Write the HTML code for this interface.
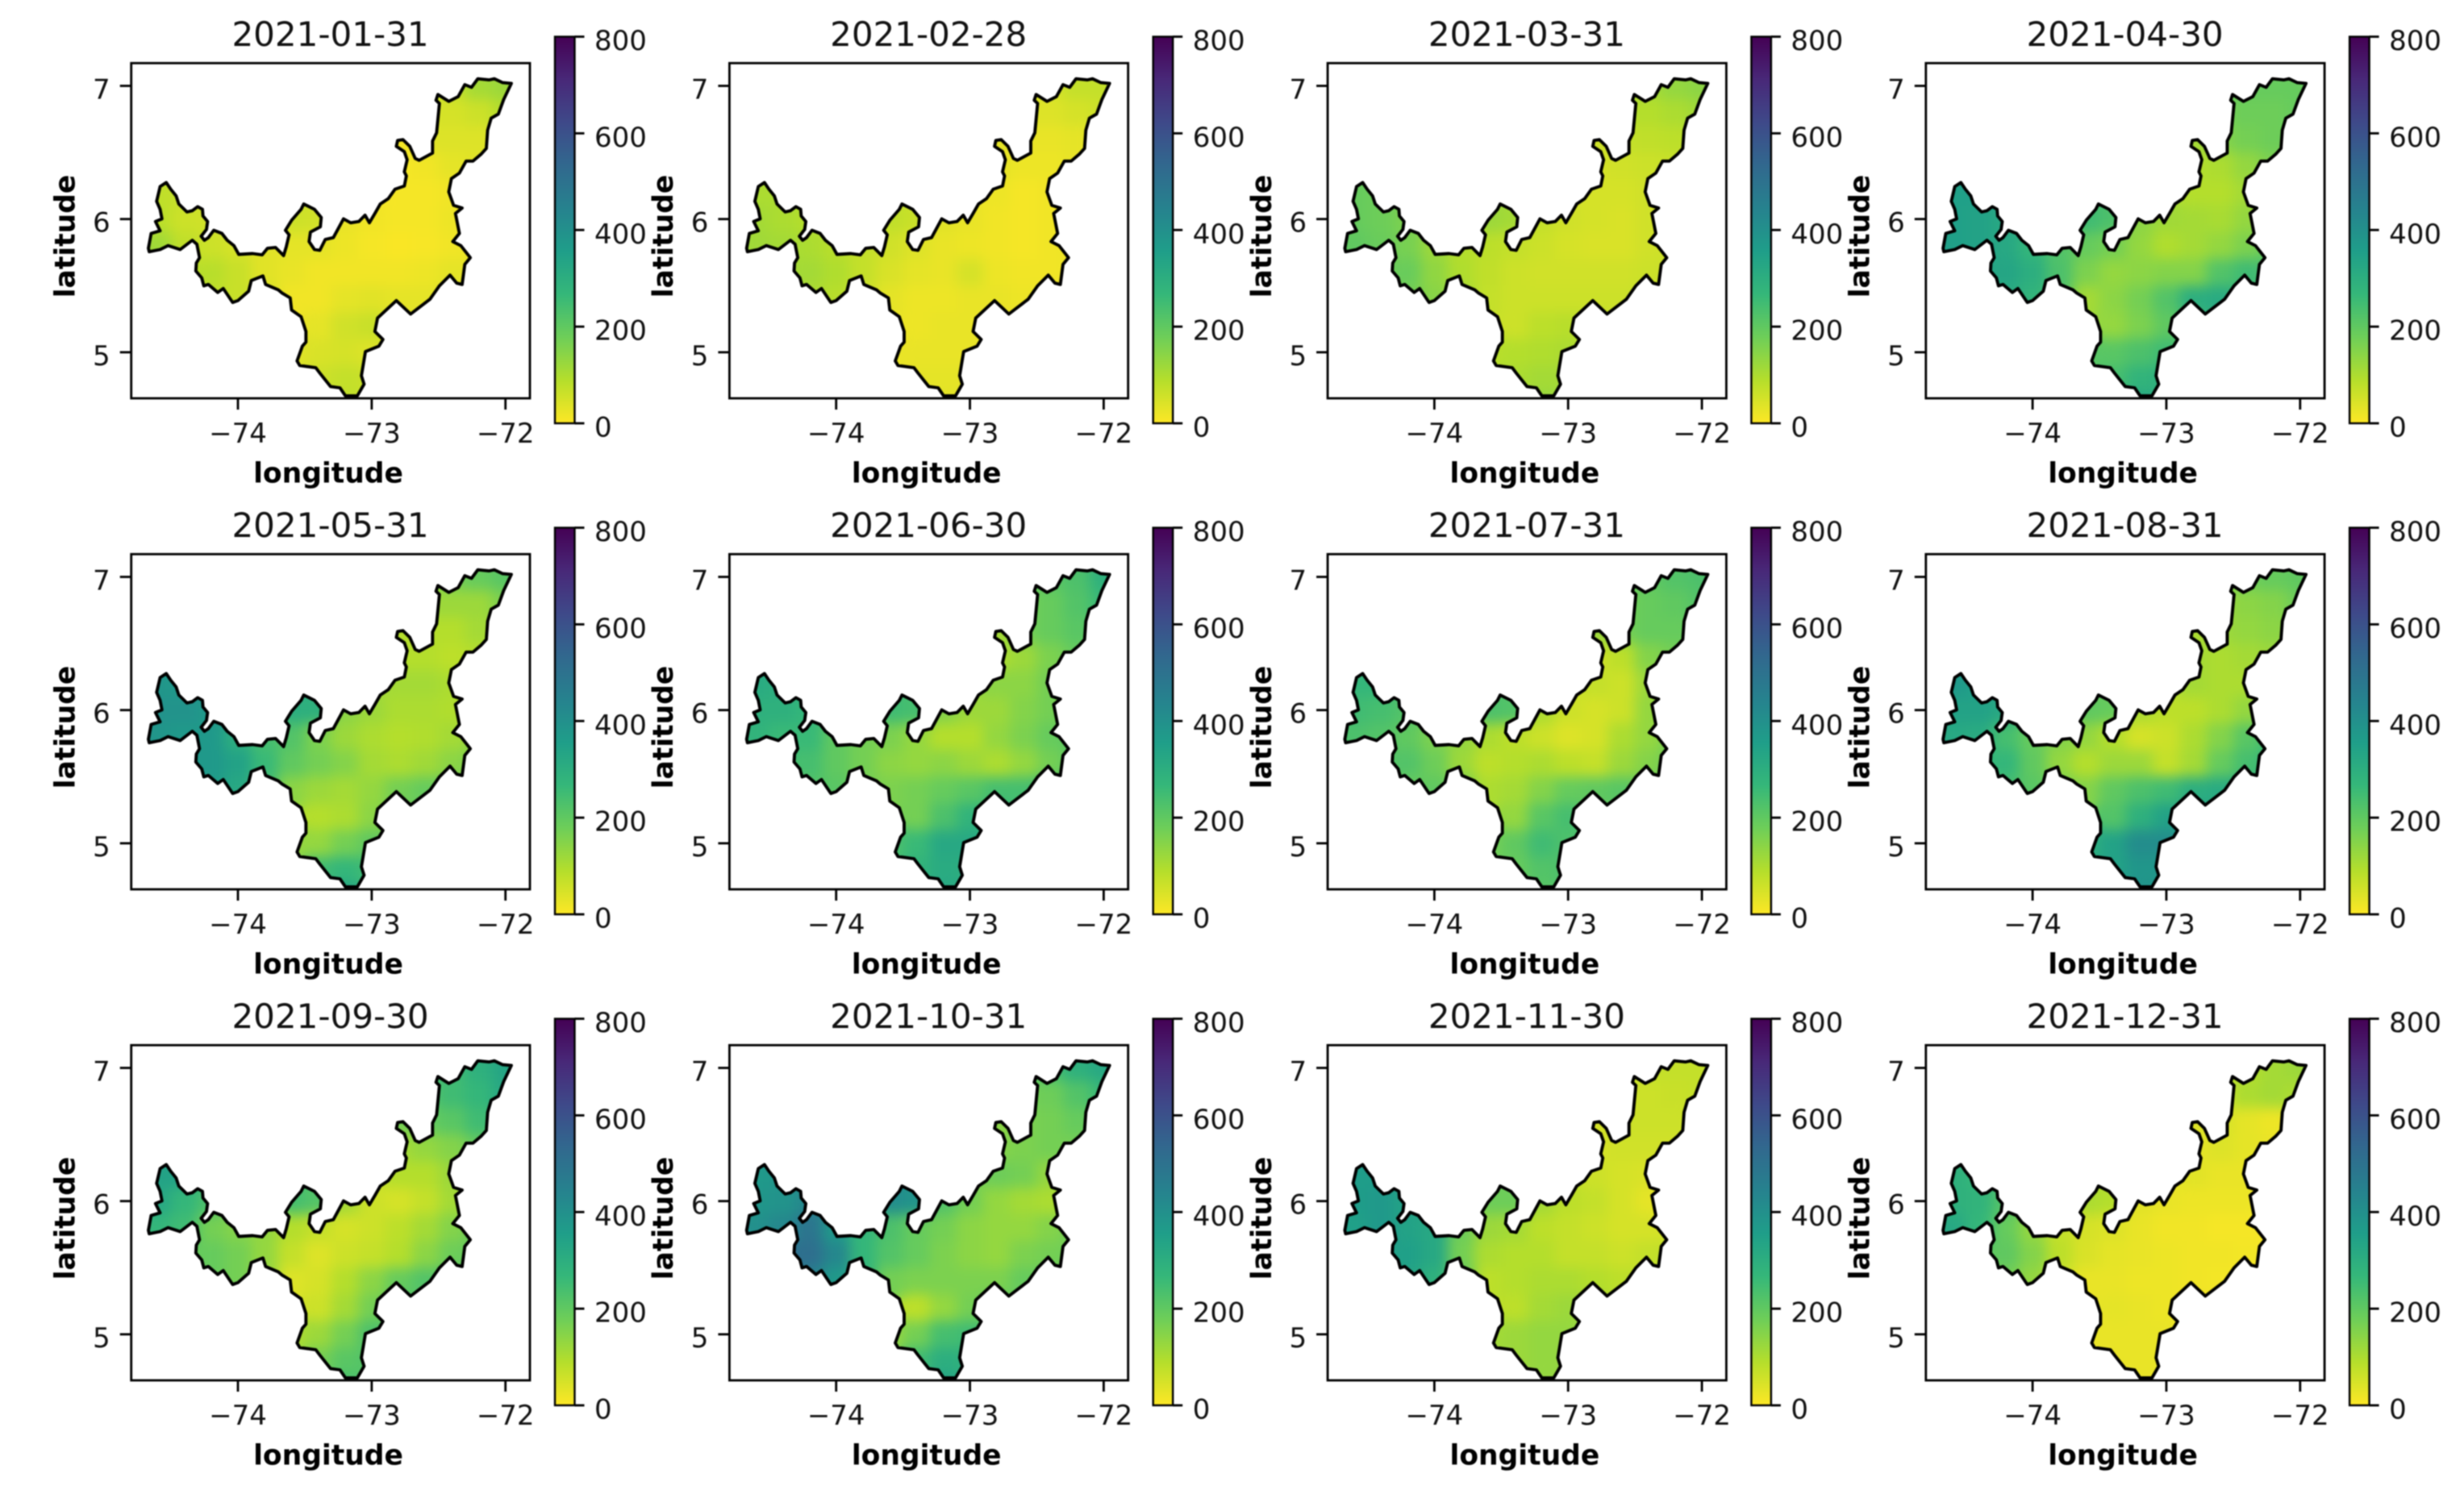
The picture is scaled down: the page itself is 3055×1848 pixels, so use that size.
<!DOCTYPE html>
<html lang="en">
<head>
<meta charset="utf-8">
<title>Monthly map panels 2021</title>
<style>
html,body{margin:0;padding:0;background:#fff;}
#figure{display:block;width:3055px;height:1848px;filter:blur(0.8px);font-family:"DejaVu Sans","Liberation Sans",sans-serif;}
</style>
</head>
<body>
<svg id="figure" xmlns="http://www.w3.org/2000/svg" width="3055" height="1848" viewBox="0 0 3055 1848"></svg>
<script>
const xTicks = [-74, -73, -72];
const yTicks = [5, 6, 7];
const cbarTicks = [0, 200, 400, 600, 800];
const titles = ['2021-01-31','2021-02-28','2021-03-31','2021-04-30','2021-05-31','2021-06-30','2021-07-31','2021-08-31','2021-09-30','2021-10-31','2021-11-30','2021-12-31'];

const gridLons = [-74.6,-74.4,-74.2,-74.0,-73.8,-73.6,-73.4,-73.2,-73.0,-72.8,-72.6,-72.4,-72.2,-72.0];
const gridLats = [7.0,6.8,6.6,6.4,6.2,6.0,5.8,5.6,5.4,5.2,5.0,4.8,4.6];
const rowColumns = [[11,12,13],[10,11,12,13],[9,10,11,12],[9,10,11,12],[0,1,9,10,11],[0,1,2,5,6,7,8,9,10,11],[0,1,2,3,4,5,6,7,8,9,10,11,12],[2,3,4,5,6,7,8,9,10,11,12],[2,3,4,5,6,7,8,9,10,11],[6,7,8,9],[5,6,7,8],[6,7,8],[7]];

const jan = [[70,110,120],[50,50,60,90],[10,40,40,40],[10,15,30,35],[75,70,10,10,15],[80,60,55,60,55,25,15,10,10,20],[115,75,60,50,35,30,30,20,10,5,8,15,25],[85,65,35,25,15,15,15,15,20,30,30],[75,65,50,15,15,30,35,30,30,45],[30,55,65,40],[35,45,50,40],[60,70,65],[75]];
const feb = [[50,70,70],[40,40,50,60],[30,25,25,30],[30,20,20,25],[100,100,20,10,15],[110,100,90,75,65,35,25,15,10,15],[115,110,100,85,70,55,40,25,20,15,10,15,20],[110,95,70,45,30,25,50,20,15,15,20],[100,85,60,30,20,20,25,25,20,25],[20,25,25,20],[25,25,25,25],[30,30,30],[35]];
const mar = [[110,130,140],[90,90,100,115],[60,70,75,80],[50,55,60,65],[190,180,50,50,55],[190,180,160,120,110,70,55,50,45,55],[200,185,165,120,90,80,70,60,50,45,45,55,60],[185,135,95,75,60,55,55,55,55,60,65],[170,145,110,70,60,60,60,60,60,70],[60,80,85,75],[85,90,95,100],[100,110,110],[130]];
const apr = [[190,190,190],[170,180,180,190],[110,150,170,180],[90,100,130,160],[350,350,90,90,110],[350,340,320,250,230,140,115,110,105,130],[350,340,320,270,220,190,170,130,95,110,130,160,200],[330,300,230,160,130,140,150,150,220,250,230],[310,280,230,110,140,170,220,300,310,280],[130,160,200,250],[210,210,230,250],[240,280,290],[330]];
const may = [[170,190,210],[120,120,120,160],[90,90,90,110],[90,90,80,90],[380,370,110,110,100],[390,390,370,300,290,140,120,100,100,95],[380,370,370,300,240,220,160,120,100,90,95,110,130],[370,340,260,200,170,150,110,100,115,140,170],[360,320,250,140,120,110,130,170,190,200],[90,100,140,190],[130,130,170,200],[250,270,250],[340]];
const jun = [[210,230,290],[170,190,220,260],[110,170,190,210],[100,120,160,190],[310,300,140,140,170],[290,290,270,250,240,150,120,120,150,170],[280,260,260,200,170,160,130,90,90,130,160,190,210],[240,200,170,140,130,140,120,100,130,170,210],[220,210,170,160,170,190,210,240,240,260],[170,230,280,280],[230,260,320,320],[280,310,300],[320]];
const jul = [[200,220,230],[170,190,200,220],[120,170,190,190],[60,80,150,170],[270,270,70,60,120],[250,240,220,230,220,100,60,50,60,130],[230,220,200,160,130,100,80,60,40,50,100,130,170],[220,180,120,80,90,100,80,70,120,150,190],[190,200,170,100,110,150,190,200,210,200],[130,210,240,200],[170,200,250,230],[190,220,230],[210]];
const aug = [[180,190,200],[120,140,150,180],[100,120,130,140],[110,100,110,120],[370,350,110,100,100],[340,340,320,200,190,100,80,80,100,130],[320,310,240,190,150,130,90,50,60,100,150,210,250],[270,200,130,90,120,120,70,110,190,240,270],[240,210,170,150,200,230,250,300,310,320],[220,290,340,350],[290,340,410,410],[340,380,380],[390]];
const sep = [[250,290,330],[220,250,270,320],[170,190,210,250],[110,130,150,190],[340,340,90,90,120],[320,270,230,240,220,110,60,50,70,110],[270,250,170,150,130,90,70,50,60,80,110,150,190],[190,170,130,70,40,60,70,90,140,180,200],[190,170,130,40,50,90,140,190,220,230],[60,110,170,230],[100,120,170,230],[170,210,220],[240]];
const oct = [[240,290,320],[170,180,220,260],[140,160,170,190],[150,160,170,170],[370,380,180,170,130],[380,390,430,410,390,220,170,130,110,100],[400,430,490,370,270,230,190,170,140,130,130,150,180],[510,430,270,220,190,160,140,130,160,170,180],[440,370,290,170,160,160,160,160,190,200],[80,130,170,210],[130,170,240,250],[250,300,290],[340]];
const nov = [[70,70,70],[60,60,65,70],[50,60,60,60],[50,55,55,55],[360,360,60,50,45],[360,370,340,180,180,110,80,70,50,30],[350,370,340,320,180,120,110,80,70,60,50,50,50],[350,320,170,100,90,90,70,70,60,70,80],[330,290,200,80,90,100,100,90,80,80],[80,110,120,110],[110,120,130,130],[120,130,130],[130]];
const dec = [[90,110,120],[60,100,110,100],[40,50,30,20],[30,40,30,25],[290,270,35,25,25],[290,280,220,100,90,35,25,20,20,20],[320,270,190,130,70,50,40,25,15,15,10,10,10],[200,150,80,45,30,25,20,15,15,12,10],[170,130,60,25,25,20,20,15,12,10],[30,25,20,20],[25,25,25,25],[25,25,25],[25]];
const months = [jan,feb,mar,apr,may,jun,jul,aug,sep,oct,nov,dec];

const regionBoundary = [
[-74.536,6.274],[-74.502,6.224],[-74.462,6.174],[-74.442,6.113],[-74.381,6.053],[-74.341,6.063],[-74.301,6.093],[-74.265,6.073],[-74.261,6.023],[-74.227,5.982],[-74.235,5.922],[-74.275,5.871],[-74.251,5.841],[-74.221,5.861],[-74.181,5.916],[-74.120,5.892],[-74.080,5.841],[-74.030,5.801],[-73.994,5.735],[-73.890,5.741],[-73.819,5.731],[-73.779,5.781],[-73.719,5.787],[-73.659,5.726],[-73.639,5.791],[-73.618,5.882],[-73.645,5.916],[-73.598,5.992],[-73.528,6.073],[-73.508,6.113],[-73.428,6.073],[-73.377,6.012],[-73.384,5.942],[-73.458,5.902],[-73.468,5.831],[-73.428,5.771],[-73.388,5.765],[-73.347,5.847],[-73.287,5.861],[-73.211,6.002],[-73.157,5.972],[-73.096,5.982],[-73.050,6.029],[-73.017,5.972],[-72.976,6.042],[-72.936,6.113],[-72.876,6.153],[-72.826,6.224],[-72.756,6.248],[-72.741,6.324],[-72.756,6.355],[-72.735,6.445],[-72.756,6.506],[-72.816,6.546],[-72.806,6.590],[-72.766,6.596],[-72.715,6.546],[-72.675,6.455],[-72.645,6.441],[-72.545,6.496],[-72.545,6.586],[-72.515,6.647],[-72.505,6.747],[-72.494,6.868],[-72.519,6.892],[-72.505,6.935],[-72.424,6.884],[-72.354,6.919],[-72.304,7.009],[-72.254,6.989],[-72.207,7.053],[-72.123,7.045],[-72.083,7.053],[-72.023,7.025],[-71.956,7.019],[-72.013,6.898],[-72.053,6.788],[-72.107,6.757],[-72.133,6.667],[-72.143,6.530],[-72.183,6.486],[-72.243,6.435],[-72.294,6.435],[-72.344,6.345],[-72.404,6.304],[-72.424,6.204],[-72.388,6.103],[-72.324,6.083],[-72.374,6.042],[-72.344,5.892],[-72.394,5.831],[-72.334,5.801],[-72.263,5.710],[-72.304,5.660],[-72.324,5.509],[-72.364,5.519],[-72.414,5.579],[-72.494,5.499],[-72.565,5.398],[-72.709,5.287],[-72.816,5.388],[-72.956,5.257],[-72.976,5.156],[-72.916,5.096],[-72.946,5.046],[-73.047,5.005],[-73.077,4.824],[-73.057,4.760],[-73.107,4.673],[-73.197,4.673],[-73.237,4.733],[-73.308,4.743],[-73.388,4.844],[-73.418,4.884],[-73.538,4.901],[-73.558,4.935],[-73.518,5.046],[-73.492,5.076],[-73.492,5.156],[-73.528,5.267],[-73.599,5.317],[-73.609,5.408],[-73.669,5.444],[-73.699,5.469],[-73.793,5.509],[-73.813,5.573],[-73.900,5.539],[-73.920,5.459],[-74.000,5.388],[-74.040,5.374],[-74.110,5.479],[-74.151,5.449],[-74.221,5.509],[-74.255,5.499],[-74.271,5.559],[-74.315,5.610],[-74.311,5.670],[-74.287,5.710],[-74.307,5.811],[-74.341,5.841],[-74.432,5.771],[-74.522,5.801],[-74.582,5.771],[-74.663,5.755],[-74.669,5.781],[-74.649,5.892],[-74.582,5.912],[-74.616,5.982],[-74.568,6.002],[-74.582,6.073],[-74.608,6.133],[-74.582,6.244]
];

const viridisStops = ['#440154','#482878','#3e4989','#31688e','#26828e','#1f9e89','#35b779','#6ece58','#b5de2b','#fde725'];
const cellLon = 0.2, cellLat = 0.2, vmax = 800;
const NS = 'http://www.w3.org/2000/svg';
const svg = document.getElementById('figure');

function hexToRgb(h){ return [parseInt(h.slice(1,3),16),parseInt(h.slice(3,5),16),parseInt(h.slice(5,7),16)]; }
function colorFor(v){
  const t = Math.max(0, Math.min(1, 1 - v / vmax)) * (viridisStops.length - 1);
  const i = Math.min(viridisStops.length - 2, Math.floor(t));
  const f = t - i, a = hexToRgb(viridisStops[i]), b = hexToRgb(viridisStops[i+1]);
  return 'rgb(' + a.map((c,k)=>Math.round(c + (b[k]-c)*f)).join(',') + ')';
}
function mk(tag, attrs, parent){
  const n = document.createElementNS(NS, tag);
  for (const k in attrs) n.setAttribute(k, attrs[k]);
  if (parent) parent.appendChild(n);
  return n;
}
function xScale(lon, ox){ return ox + 295 + (lon + 74) * 165.85; }
function yScale(lat, oy){ return oy + 106.5 + (7 - lat) * 165.2; }
function cbScale(v, oy){ return oy + 525 - (v / vmax) * 479.5; }

const defs = mk('defs', {}, svg);
const grad = mk('linearGradient', {id:'cbar-gradient', x1:'0', y1:'1', x2:'0', y2:'0'}, defs);
for (let i = 0; i < viridisStops.length; i++) {
  mk('stop', {offset: (i / (viridisStops.length - 1)), 'stop-color': viridisStops[viridisStops.length - 1 - i]}, grad);
}
const blur = mk('filter', {id:'smooth-cells', filterUnits:'userSpaceOnUse', x:'0', y:'0', width:'3055', height:'1848', 'color-interpolation-filters':'sRGB'}, defs);
mk('feGaussianBlur', {stdDeviation:'8'}, blur);
const transfer = mk('feComponentTransfer', {}, blur);
mk('feFuncA', {type:'linear', slope:'25', intercept:'0'}, transfer);

function drawPanel(index){
  const col = index % 4, row = Math.floor(index / 4);
  const ox = col * 741.7, oy = row * 609;
  const left = ox + 162.7, right = ox + 657, top = oy + 78.3, bottom = oy + 494;
  const values = months[index];

  const panel = mk('g', {}, svg);
  
  

  const pathD = 'M' + regionBoundary.map(p => xScale(p[0], ox).toFixed(1) + ' ' + yScale(p[1], oy).toFixed(1)).join('L') + 'Z';
  const clip = mk('clipPath', {id:'region-clip-' + index}, defs);
  mk('path', {d:pathD}, clip);
  const axesClip = mk('clipPath', {id:'axes-clip-' + index}, defs);
  mk('rect', {x:left, y:top, width:right-left, height:bottom-top}, axesClip);

  const axesGroup = mk('g', {'clip-path':'url(#axes-clip-' + index + ')'}, panel);
  
  

  const clipped = mk('g', {'clip-path':'url(#region-clip-' + index + ')'}, axesGroup);
  const heat = mk('g', {filter:'url(#smooth-cells)'}, clipped);
  
  
  for (let r = 0; r < rowColumns.length; r++) {
    for (let k = 0; k < rowColumns[r].length; k++) {
      const lon = gridLons[rowColumns[r][k]], lat = gridLats[r];
      const x0 = xScale(lon - cellLon / 2, ox), x1 = xScale(lon + cellLon / 2, ox);
      const y0 = yScale(lat + cellLat / 2, oy), y1 = yScale(lat - cellLat / 2, oy);
      const cell = mk('rect', {x:x0, y:y0, width:x1-x0+0.5, height:y1-y0+0.5, fill:colorFor(values[r][k])}, heat);
      
      
    }
  }
  const outline = mk('path', {d:pathD, fill:'none', stroke:'#000', 'stroke-width':'3.9', 'stroke-linejoin':'round'}, axesGroup);
  
  

  const frame = mk('rect', {x:left, y:top, width:right-left, height:bottom-top, fill:'none', stroke:'#000', 'stroke-width':'2.8'}, panel);
  
  

  const title = mk('text', {x:ox+409.5, y:oy+57, 'text-anchor':'middle', 'font-size':'42', fill:'#111'}, panel);
  title.textContent = titles[index];
  
  

  xTicks.forEach(t => {
    const x = xScale(t, ox);
    const tick = mk('line', {x1:x, x2:x, y1:bottom, y2:bottom+14, stroke:'#000', 'stroke-width':'2.8'}, panel);
    
    
    const lab = mk('text', {x:x, y:bottom+55, 'text-anchor':'middle', 'font-size':'34', fill:'#111'}, panel);
    lab.textContent = '\u2212' + Math.abs(t);
    
    
  });
  yTicks.forEach(t => {
    const y = yScale(t, oy);
    const tick = mk('line', {x1:left-14, x2:left, y1:y, y2:y, stroke:'#000', 'stroke-width':'2.8'}, panel);
    
    
    const lab = mk('text', {x:left-26, y:y+16, 'text-anchor':'end', 'font-size':'34', fill:'#111'}, panel);
    lab.textContent = String(t);
    
    
  });

  const xTitle = mk('text', {x:ox+407, y:oy+598.5, 'text-anchor':'middle', 'font-size':'34.5', 'font-weight':'700', fill:'#000'}, panel);
  xTitle.textContent = 'longitude';
  
  

  const yTitle = mk('text', {x:0, y:0, transform:'translate(' + (ox+92.5) + ' ' + (oy+293) + ') rotate(-90)', 'text-anchor':'middle', 'font-size':'34.5', 'font-weight':'700', fill:'#000'}, panel);
  yTitle.textContent = 'latitude';
  
  

  const cbX = ox + 688, cbW = 24.5;
  const cbar = mk('g', {}, panel);
  
  
  const bar = mk('rect', {x:cbX, y:cbScale(vmax, oy), width:cbW, height:cbScale(0, oy)-cbScale(vmax, oy), fill:'url(#cbar-gradient)', stroke:'#000', 'stroke-width':'2.4'}, cbar);
  
  
  cbarTicks.forEach(v => {
    const y = cbScale(v, oy);
    const tick = mk('line', {x1:cbX+cbW, x2:cbX+cbW+12, y1:y, y2:y, stroke:'#000', 'stroke-width':'2.8'}, cbar);
    
    
    const lab = mk('text', {x:ox+737, y:y+16.5, 'font-size':'34', fill:'#111'}, cbar);
    lab.textContent = String(v);
    
    
  });
}
for (let i = 0; i < months.length; i++) drawPanel(i);
</script>
</body>
</html>
